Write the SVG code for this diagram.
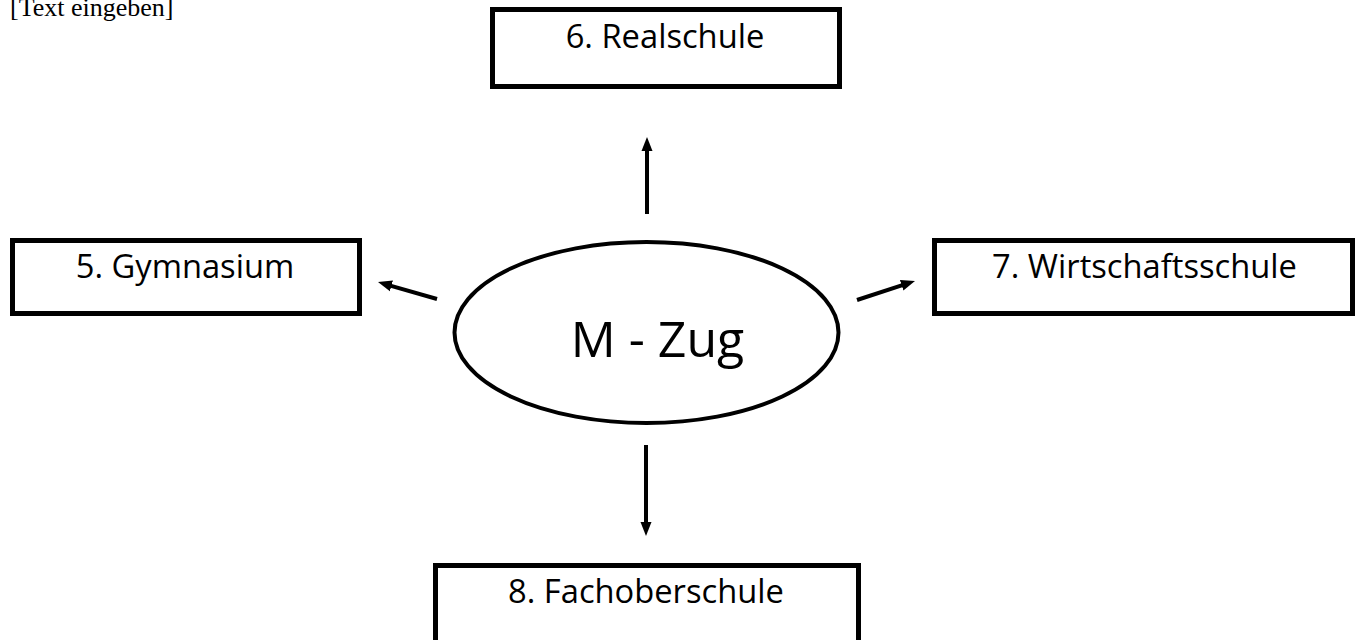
<svg xmlns="http://www.w3.org/2000/svg" width="1364" height="640" viewBox="0 0 1364 640">
  <style>
    .box { fill: #ffffff; stroke: #000000; stroke-width: 5; }
    .ell { fill: #ffffff; stroke: #000000; stroke-width: 4; }
    .lbl { font-family: "Open Sans", "Liberation Sans", sans-serif; font-size: 32.7px; fill: #000000; text-anchor: middle; }
    .big { font-family: "Open Sans", "Liberation Sans", sans-serif; font-size: 50px; fill: #000000; text-anchor: middle; }
    .hdr { font-family: "Liberation Serif", serif; font-size: 26px; fill: #000000; }
    .conn { stroke: #000000; stroke-width: 4; fill: none; marker-end: url(#arr); }
  </style>
  <defs>
    <marker id="arr" markerUnits="userSpaceOnUse" markerWidth="14" markerHeight="12" refX="4" refY="6" orient="auto">
      <path d="M0,0.5 L14,6 L0,11.5 z" fill="#000000"/>
    </marker>
  </defs>
  <rect width="1364" height="640" fill="#ffffff"/>
  <text class="hdr" x="10" y="15.5">[Text eingeben]</text>

  <g id="connectors">
    <line class="conn" x1="647" y1="214" x2="647" y2="147"/>
    <line class="conn" x1="646" y1="445" x2="646" y2="526"/>
    <line class="conn" x1="437" y1="299" x2="387.6" y2="284.8"/>
    <line class="conn" x1="857" y1="300" x2="905.5" y2="284.1"/>
  </g>

  <g id="node-center">
    <ellipse class="ell" cx="646.5" cy="332.5" rx="192" ry="90.5"/>
    <text class="big" x="657.5" y="356.5">M - Zug</text>
  </g>
  <g id="node-realschule">
    <rect class="box" x="492.5" y="9.5" width="347" height="77"/>
    <text class="lbl" x="665" y="48">6. Realschule</text>
  </g>
  <g id="node-gymnasium">
    <rect class="box" x="12.5" y="240.5" width="347" height="73"/>
    <text class="lbl" x="185" y="278">5. Gymnasium</text>
  </g>
  <g id="node-wirtschaftsschule">
    <rect class="box" x="934.5" y="240.5" width="418" height="73"/>
    <text class="lbl" x="1144.5" y="278">7. Wirtschaftsschule</text>
  </g>
  <g id="node-fachoberschule">
    <rect class="box" x="435.5" y="565.5" width="423" height="100"/>
    <text class="lbl" x="646" y="603">8. Fachoberschule</text>
  </g>
</svg>
